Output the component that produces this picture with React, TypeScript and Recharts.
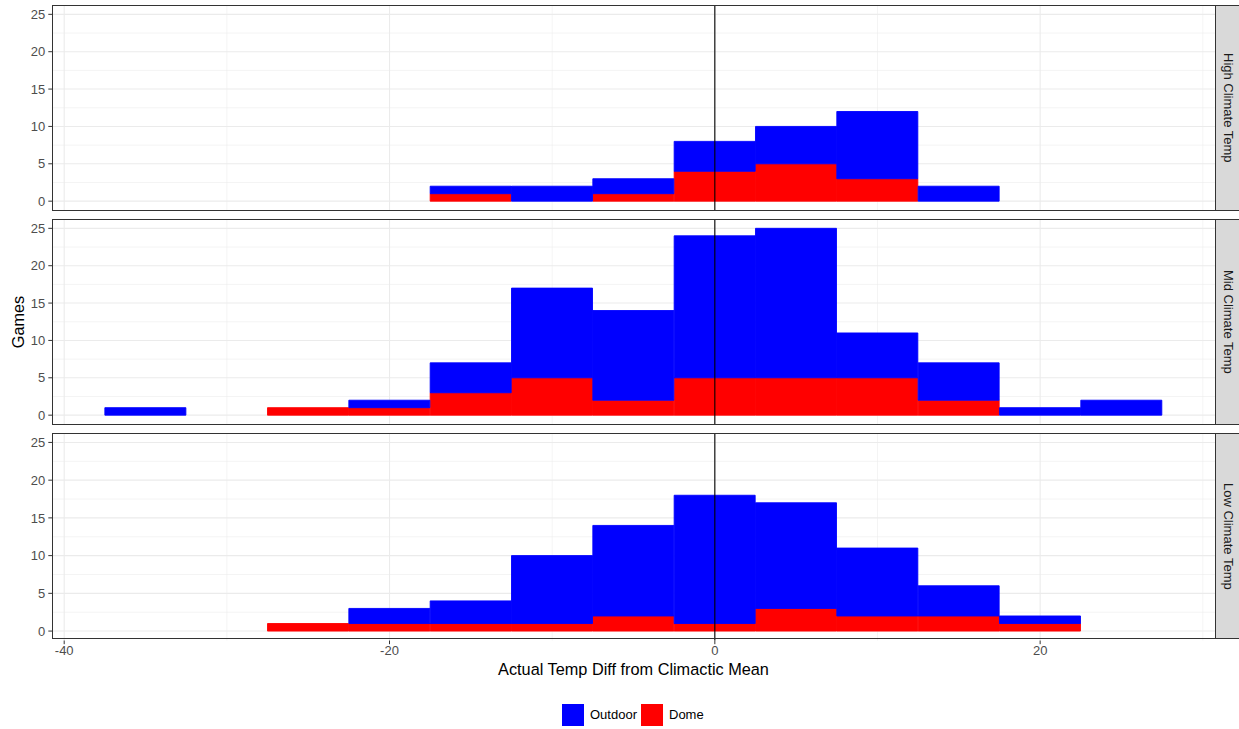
import { BarChart, Bar, XAxis, YAxis, CartesianGrid, ReferenceLine } from "recharts";

// bin centres (width 5) shared by every panel
const binCentres = [-35, -30, -25, -20, -15, -10, -5, 0, 5, 10, 15, 20, 25];

// games per bin, total and dome-only, per climate group
const highTotal = [0, 0, 0, 0, 2, 2, 3, 8, 10, 12, 2, 0, 0];
const highDome = [0, 0, 0, 0, 1, 0, 1, 4, 5, 3, 0, 0, 0];

const midTotal = [1, 0, 1, 2, 7, 17, 14, 24, 25, 11, 7, 1, 2];
const midDome = [0, 0, 1, 1, 3, 5, 2, 5, 5, 5, 2, 0, 0];

const lowTotal = [0, 0, 1, 3, 4, 10, 14, 18, 17, 11, 6, 2, 0];
const lowDome = [0, 0, 1, 1, 1, 1, 2, 1, 3, 2, 2, 1, 0];

const panelLabels = ["High Climate Temp", "Mid Climate Temp", "Low Climate Temp"];

const xMajor = [-40, -20, 0, 20];
const xMinor = [-30, -10, 10, 30];
const yMajor = [0, 5, 10, 15, 20, 25];
const yMinor = [2.5, 7.5, 12.5, 17.5, 22.5];

const FONT = "'Liberation Sans', Arial, sans-serif";
const PLOT_LEFT = 52;
const PLOT_RIGHT = 1215;
const PANEL_H = 205.5;
const panelTops = [5, 219.2, 433.4];
const PAD = 2;
const SMALL = 13;
const TITLE = 16.3;

const buildRows = (total: number[], dome: number[]) =>
  binCentres.map((x, i) => ({ x, dome: dome[i], outdoor: total[i] - dome[i] }));

const panels = [
  buildRows(highTotal, highDome),
  buildRows(midTotal, midDome),
  buildRows(lowTotal, lowDome),
];

const tickStyle = { fontSize: SMALL, fill: "#4D4D4D", fontFamily: FONT };

const Panel = ({ rows, top, showX }: { rows: any[]; top: number; showX: boolean }) => {
  const axisH = showX ? 26 : 0;
  return (
    <div style={{ position: "absolute", left: 0, top: top - PAD }}>
      <BarChart
        width={PLOT_RIGHT + PAD}
        height={PANEL_H + PAD * 2 + axisH}
        data={rows}
        barCategoryGap={0}
        barGap={0}
        margin={{ top: PAD, right: PAD, bottom: showX ? 0 : PAD, left: 0 }}
      >
        <CartesianGrid
          stroke="#EBEBEB"
          strokeWidth={0.55}
          horizontalValues={yMinor}
          verticalValues={xMinor}
        />
        <CartesianGrid
          stroke="#EBEBEB"
          strokeWidth={1.07}
          horizontalValues={yMajor}
          verticalValues={xMajor}
        />
        <XAxis
          dataKey="x"
          type="number"
          domain={[-40.75, 30.75]}
          ticks={xMajor}
          allowDataOverflow
          hide={!showX}
          height={axisH}
          axisLine={false}
          tickLine={{ stroke: "#333333" }}
          tickSize={3.7}
          tickMargin={2}
          tick={tickStyle}
          interval={0}
        />
        <YAxis
          type="number"
          domain={[-1.25, 26.25]}
          ticks={yMajor}
          allowDataOverflow
          width={PLOT_LEFT}
          axisLine={false}
          tickLine={{ stroke: "#333333" }}
          tickSize={3.7}
          tickMargin={3}
          tick={tickStyle}
          interval={0}
        />
        <Bar dataKey="dome" stackId="g" fill="#FF0000" stroke="#FF0000" strokeWidth={0.9} isAnimationActive={false} />
        <Bar dataKey="outdoor" stackId="g" fill="#0000FF" stroke="#0000FF" strokeWidth={0.9} isAnimationActive={false} />
        <ReferenceLine x={0} stroke="#000000" strokeWidth={1.1} />
      </BarChart>
    </div>
  );
};

export default function App() {
  return (
    <div
      style={{
        position: "fixed",
        left: 0,
        top: 0,
        width: 1239,
        height: 729,
        background: "#FFFFFF",
        fontFamily: FONT,
        overflow: "hidden",
      }}
    >
      {panels.map((rows, i) => (
        <Panel key={i} rows={rows} top={panelTops[i]} showX={i === panels.length - 1} />
      ))}

      {panelTops.map((t, i) => (
        <div key={"border" + i}>
          <div
            style={{
              position: "absolute",
              left: PLOT_LEFT - 0.5,
              top: t - 0.5,
              width: PLOT_RIGHT - PLOT_LEFT - 1,
              height: PANEL_H - 1,
              border: "1px solid #333333",
              pointerEvents: "none",
            }}
          />
          <div
            style={{
              position: "absolute",
              left: PLOT_RIGHT - 0.5,
              top: t - 0.5,
              width: 26,
              height: PANEL_H - 1,
              border: "1px solid #333333",
              background: "#D9D9D9",
              display: "flex",
              alignItems: "center",
              justifyContent: "center",
            }}
          >
            <span
              style={{
                writingMode: "vertical-rl",
                fontSize: SMALL,
                color: "#1A1A1A",
                whiteSpace: "nowrap",
              }}
            >
              {panelLabels[i]}
            </span>
          </div>
        </div>
      ))}

      <div
        style={{
          position: "absolute",
          left: 8,
          top: 322,
          width: 20,
          transform: "translate(0, -50%) rotate(-90deg)",
          transformOrigin: "center",
          fontSize: TITLE,
          color: "#000000",
          display: "flex",
          justifyContent: "center",
          whiteSpace: "nowrap",
        }}
      >
        Games
      </div>

      <div
        style={{
          position: "absolute",
          left: PLOT_LEFT,
          width: PLOT_RIGHT - PLOT_LEFT,
          top: 660,
          textAlign: "center",
          fontSize: TITLE,
          color: "#000000",
        }}
      >
        Actual Temp Diff from Climactic Mean
      </div>

      <div style={{ position: "absolute", left: 562, top: 704, width: 22, height: 22, background: "#0000FF" }} />
      <div style={{ position: "absolute", left: 590, top: 707, fontSize: SMALL, color: "#000000" }}>Outdoor</div>
      <div style={{ position: "absolute", left: 641, top: 704, width: 22, height: 22, background: "#FF0000" }} />
      <div style={{ position: "absolute", left: 669, top: 707, fontSize: SMALL, color: "#000000" }}>Dome</div>
    </div>
  );
}
